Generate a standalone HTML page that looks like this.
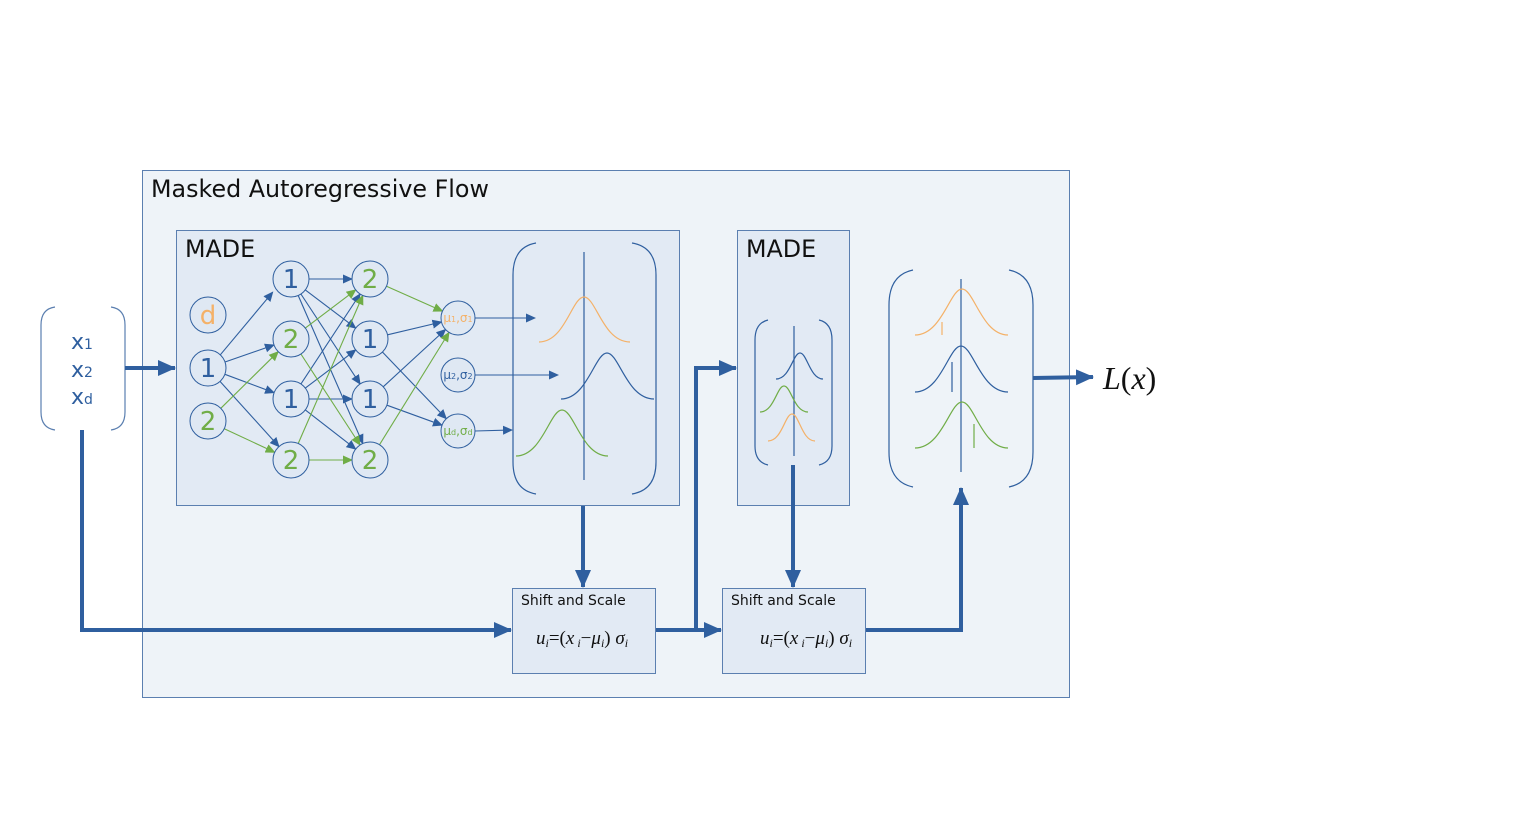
<!DOCTYPE html>
<html><head><meta charset="utf-8"><style>
html,body{margin:0;padding:0;background:#fff;width:1536px;height:816px;overflow:hidden}
svg{display:block}
.s{font-family:"DejaVu Sans","Liberation Sans",sans-serif}
.m{font-family:"Liberation Serif",serif;font-style:italic}
</style></head><body>
<svg width="1536" height="816" viewBox="0 0 1536 816" xmlns="http://www.w3.org/2000/svg">
<defs>
<marker id="ab" markerUnits="userSpaceOnUse" markerWidth="10" markerHeight="10" refX="9" refY="5" orient="auto"><path d="M0,0.5 L10,5 L0,9.5z" fill="#2f5f9f"/></marker>
<marker id="ag" markerUnits="userSpaceOnUse" markerWidth="10" markerHeight="10" refX="9" refY="5" orient="auto"><path d="M0,0.5 L10,5 L0,9.5z" fill="#70ad47"/></marker>
<marker id="AB" markerUnits="userSpaceOnUse" markerWidth="18" markerHeight="16" refX="17" refY="8" orient="auto"><path d="M0,0 L18,8 L0,16z" fill="#2f5f9f"/></marker>
</defs>
<rect x="142.5" y="170.5" width="927" height="527" fill="#eef3f8" stroke="#5b7fb0"/>
<text x="151" y="197" class="s" font-size="23.8" fill="#111">Masked Autoregressive Flow</text>
<rect x="176.5" y="230.5" width="503" height="275" fill="#e2eaf4" stroke="#5b7fb0"/>
<text x="185" y="257" class="s" font-size="23.8" fill="#111">MADE</text>
<rect x="737.5" y="230.5" width="112" height="275" fill="#e2eaf4" stroke="#5b7fb0"/>
<text x="746" y="257" class="s" font-size="23.8" fill="#111">MADE</text>

<g fill="none" stroke="#5b7fb0" stroke-width="1.2">
<path d="M55,307 Q41,309 41,325 L41,412 Q41,428 55,430"/>
<path d="M111,307 Q125,309 125,325 L125,412 Q125,428 111,430"/>
</g>
<g class="s" fill="#2f5f9f" font-size="22">
<text x="71" y="349">x<tspan font-size="14">1</tspan></text>
<text x="71" y="377">x<tspan font-size="14">2</tspan></text>
<text x="71" y="404">x<tspan font-size="14">d</tspan></text>
</g>

<g stroke-width="1.1" fill="none">
<g stroke="#2f5f9f" marker-end="url(#ab)">
<line x1="220.3" y1="354.8" x2="272.7" y2="292.2"/>
<line x1="225" y1="362" x2="274" y2="345"/>
<line x1="224.9" y1="374.3" x2="274.1" y2="392.7"/>
<line x1="220" y1="381.4" x2="279" y2="446.6"/>
<line x1="309" y1="279" x2="352" y2="279"/>
<line x1="305.3" y1="289.9" x2="355.7" y2="328.1"/>
<line x1="300.9" y1="294" x2="360.1" y2="384"/>
<line x1="298.2" y1="295.5" x2="362.8" y2="443.5"/>
<line x1="300.9" y1="384" x2="360.1" y2="294"/>
<line x1="305.3" y1="388.1" x2="355.7" y2="349.9"/>
<line x1="309" y1="399" x2="352" y2="399"/>
<line x1="305.3" y1="409.9" x2="355.7" y2="449.1"/>
<line x1="387.5" y1="334.8" x2="441.5" y2="322"/>
<line x1="382.4" y1="352" x2="446.3" y2="418.7"/>
<line x1="383.2" y1="386.8" x2="445.5" y2="329.5"/>
<line x1="386.9" y1="405.2" x2="442" y2="425.2"/>
<line x1="475" y1="318" x2="535" y2="318"/>
<line x1="475" y1="375" x2="558" y2="375"/>
<line x1="475" y1="431" x2="512" y2="430"/>
</g>
<g stroke="#70ad47" marker-end="url(#ag)">
<line x1="220.8" y1="408.3" x2="278.2" y2="351.7"/>
<line x1="224.3" y1="428.7" x2="274.7" y2="452.3"/>
<line x1="305.3" y1="328.1" x2="355.7" y2="289.9"/>
<line x1="300.9" y1="354" x2="360.1" y2="445"/>
<line x1="298.2" y1="443.5" x2="362.8" y2="295.5"/>
<line x1="309" y1="460" x2="352" y2="460"/>
<line x1="386.5" y1="286.3" x2="442.5" y2="311.1"/>
<line x1="379.5" y1="444.7" x2="449" y2="332.5"/>
</g>
</g>

<g fill="#dfe8f3" stroke="#2f5f9f" stroke-width="1">
<circle cx="208" cy="315" r="18"/><circle cx="208" cy="368" r="18"/><circle cx="208" cy="421" r="18"/>
<circle cx="291" cy="279" r="18"/><circle cx="291" cy="339" r="18"/><circle cx="291" cy="399" r="18"/><circle cx="291" cy="460" r="18"/>
<circle cx="370" cy="279" r="18"/><circle cx="370" cy="339" r="18"/><circle cx="370" cy="399" r="18"/><circle cx="370" cy="460" r="18"/>
<circle cx="458" cy="318" r="17"/><circle cx="458" cy="375" r="17"/><circle cx="458" cy="431" r="17"/>
</g>
<g class="s" font-size="26" text-anchor="middle">
<text x="208" y="324" fill="#f4b168">d</text>
<text x="208" y="377" fill="#2f5f9f">1</text>
<text x="208" y="430" fill="#70ad47">2</text>
<text x="291" y="288" fill="#2f5f9f">1</text>
<text x="291" y="348" fill="#70ad47">2</text>
<text x="291" y="408" fill="#2f5f9f">1</text>
<text x="291" y="469" fill="#70ad47">2</text>
<text x="370" y="288" fill="#70ad47">2</text>
<text x="370" y="348" fill="#2f5f9f">1</text>
<text x="370" y="408" fill="#2f5f9f">1</text>
<text x="370" y="469" fill="#70ad47">2</text>
</g>
<g class="s" font-size="12" text-anchor="middle">
<text x="458" y="322" fill="#f4b168">μ<tspan font-size="8">1</tspan>,σ<tspan font-size="8">1</tspan></text>
<text x="458" y="379" fill="#2f5f9f">μ<tspan font-size="8">2</tspan>,σ<tspan font-size="8">2</tspan></text>
<text x="458" y="435" fill="#70ad47">μ<tspan font-size="8">d</tspan>,σ<tspan font-size="8">d</tspan></text>
</g>

<g fill="none" stroke-width="1.2">
<path d="M536,243 Q513,247 513,275 L513,462 Q513,490 536,494" stroke="#2f5f9f"/>
<path d="M632,243 Q656,247 656,275 L656,462 Q656,490 632,494" stroke="#2f5f9f"/>
<line x1="584" y1="252" x2="584" y2="480" stroke="#2f5f9f"/>
<path d="M539,342 C565,342 572,297 584,297 C596,297 603,342 630,342" stroke="#f4b168"/>
<path d="M561,399 C587,399 595,353 607,353 C619,353 627,399 654,399" stroke="#2f5f9f"/>
<path d="M516,456 C542,456 550,410 562,410 C574,410 582,456 608,456" stroke="#70ad47"/>
</g>

<g fill="none" stroke-width="1.2">
<path d="M768,320 Q755,323 755,340 L755,446 Q755,462 768,465" stroke="#2f5f9f"/>
<path d="M819,320 Q832,323 832,340 L832,446 Q832,462 819,465" stroke="#2f5f9f"/>
<line x1="794" y1="326" x2="794" y2="456" stroke="#2f5f9f"/>
<path d="M776,379 C790,379 793,353 800,353 C807,353 810,379 823,379" stroke="#2f5f9f"/>
<path d="M760,412 C774,412 777,386 784,386 C791,386 794,412 808,412" stroke="#70ad47"/>
<path d="M768,441 C782,441 785,414 792,414 C799,414 802,441 815,441" stroke="#f4b168"/>
</g>

<g fill="none" stroke-width="1.2">
<path d="M913,270 Q889,275 889,305 L889,452 Q889,482 913,487" stroke="#2f5f9f"/>
<path d="M1009,270 Q1033,275 1033,305 L1033,452 Q1033,482 1009,487" stroke="#2f5f9f"/>
<line x1="961" y1="279" x2="961" y2="472" stroke="#2f5f9f"/>
<path d="M915,335 C942,335 950,289 962,289 C974,289 982,335 1008,335" stroke="#f4b168"/>
<line x1="942" y1="322" x2="942" y2="335" stroke="#f4b168"/>
<path d="M915,392 C941,392 949,346 961,346 C973,346 981,392 1008,392" stroke="#2f5f9f"/>
<line x1="952" y1="362" x2="952" y2="392" stroke="#2f5f9f"/>
<path d="M915,448 C942,448 950,402 962,402 C974,402 982,448 1008,448" stroke="#70ad47"/>
<line x1="974" y1="424" x2="974" y2="448" stroke="#70ad47"/>
</g>

<rect x="512.5" y="588.5" width="143" height="85" fill="#e2eaf4" stroke="#5b7fb0"/>
<text x="521" y="605" class="s" font-size="14" fill="#111">Shift and Scale</text>
<text x="536" y="644" class="m" font-size="19" fill="#111">u<tspan font-size="12" dy="3">i</tspan><tspan dy="-3" font-style="normal">=(</tspan>x<tspan font-size="12" dy="3"> i</tspan><tspan dy="-3" font-style="normal">−</tspan>μ<tspan font-size="12" dy="3">i</tspan><tspan dy="-3" font-style="normal">) </tspan>σ<tspan font-size="12" dy="3">i</tspan></text>
<rect x="722.5" y="588.5" width="143" height="85" fill="#e2eaf4" stroke="#5b7fb0"/>
<text x="731" y="605" class="s" font-size="14" fill="#111">Shift and Scale</text>
<text x="760" y="644" class="m" font-size="19" fill="#111">u<tspan font-size="12" dy="3">i</tspan><tspan dy="-3" font-style="normal">=(</tspan>x<tspan font-size="12" dy="3"> i</tspan><tspan dy="-3" font-style="normal">−</tspan>μ<tspan font-size="12" dy="3">i</tspan><tspan dy="-3" font-style="normal">) </tspan>σ<tspan font-size="12" dy="3">i</tspan></text>

<g stroke="#2f5f9f" stroke-width="4" fill="none">
<line x1="125" y1="368" x2="175" y2="368" marker-end="url(#AB)"/>
<polyline points="82,430 82,630 511,630" marker-end="url(#AB)"/>
<line x1="583" y1="506" x2="583" y2="587" marker-end="url(#AB)"/>
<line x1="656" y1="630" x2="721" y2="630" marker-end="url(#AB)"/>
<polyline points="696,630 696,368 736,368" marker-end="url(#AB)"/>
<line x1="793" y1="465" x2="793" y2="587" marker-end="url(#AB)"/>
<polyline points="866,630 961,630 961,488" marker-end="url(#AB)"/>
<line x1="1033" y1="378" x2="1093" y2="377" marker-end="url(#AB)"/>
</g>
<text x="1103" y="389" class="m" font-size="32" fill="#111">L<tspan font-style="normal">(</tspan>x<tspan font-style="normal">)</tspan></text>
</svg>
</body></html>
